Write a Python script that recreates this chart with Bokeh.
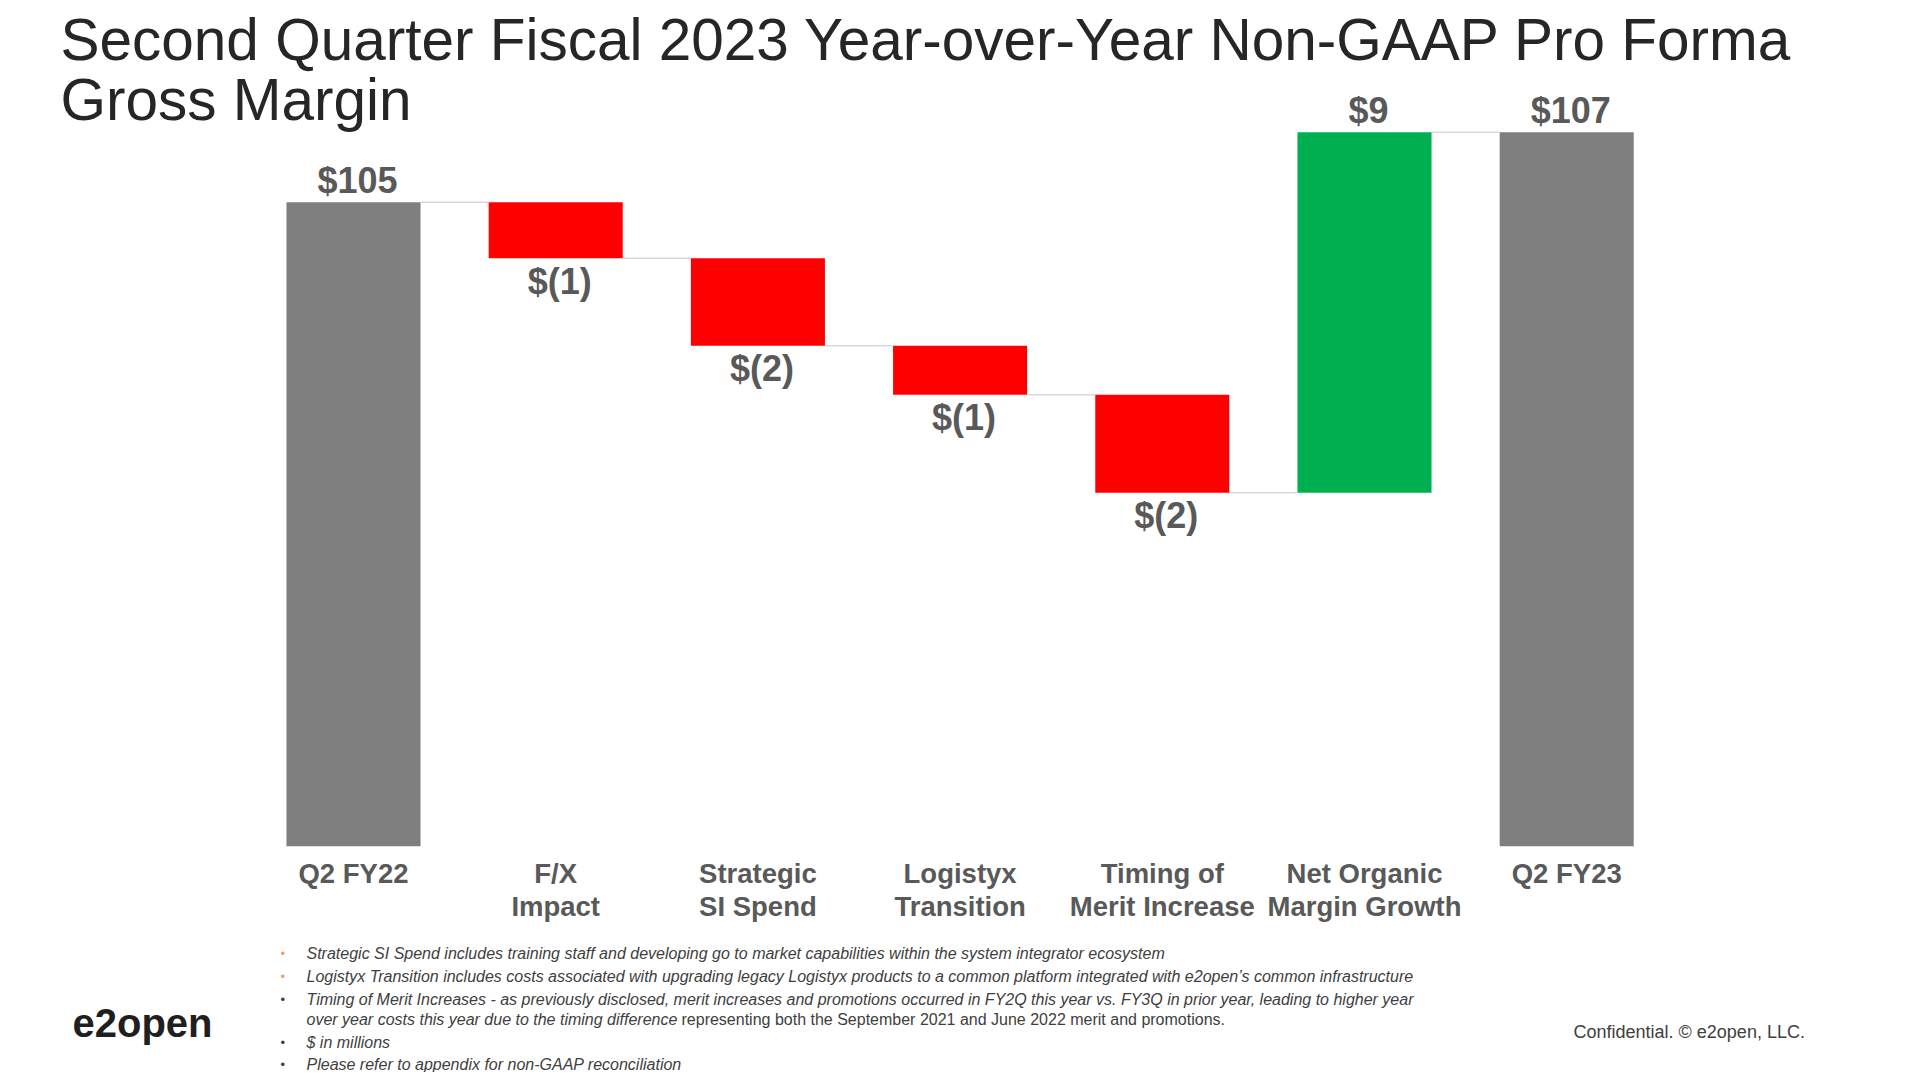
from bokeh.plotting import figure
from bokeh.models import Range1d, Label, ColumnDataSource
from bokeh.core.properties import value
from bokeh.embed import file_html
from bokeh.resources import INLINE

# ---------------- data ----------------
CATEGORIES = [
    "Q2 FY22",
    "F/X\nImpact",
    "Strategic\nSI Spend",
    "Logistyx\nTransition",
    "Timing of\nMerit Increase",
    "Net Organic\nMargin Growth",
    "Q2 FY23",
]
START_TOTAL = 105.0          # $M, Q2 FY22
CHANGES = [-1.6, -2.5, -1.4, -2.8, 10.3]   # bar heights as drawn
END_TOTAL = 107.0            # $M, Q2 FY23
VALUE_LABELS = ["$105", "$(1)", "$(2)", "$(1)", "$(2)", "$9", "$107"]
Y_FLOOR = 86.6               # value axis starts here (truncated axis)

TITLE_LINES = [
    "Second Quarter Fiscal 2023 Year-over-Year Non-GAAP Pro Forma",
    "Gross Margin",
]
FOOTNOTE_LINES = [
    "Strategic SI Spend includes training staff and developing go to market capabilities within the system integrator ecosystem",
    "Logistyx Transition includes costs associated with upgrading legacy Logistyx products to a common platform integrated with e2open\u2019s common infrastructure",
    "Timing of Merit Increases - as previously disclosed, merit increases and promotions occurred in FY2Q this year vs. FY3Q in prior year, leading to higher year",
    "over year costs this year due to the timing difference",
    "$ in millions",
    "Please refer to appendix for non-GAAP reconciliation",
]
FOOTNOTE_BULLET = [True, True, True, False, True, True]
FOOTNOTE_TAIL = "representing both the September 2021 and June 2022 merit and promotions."
LOGO_TEXT = "e2open"
CONFIDENTIAL = "Confidential. \u00a9 e2open, LLC."

# ---------------- style / layout ----------------
GRAY, RED, GREEN = "#7f7f7f", "#ff0000", "#00b050"
LABEL_COLOR = "#595959"
TITLE_COLOR = "#262626"
CONNECTOR = "#d9d9d9"
FONT = "Liberation Sans"

W, H = 1912, 1072
X0_PX, STEP_PX = 353.0, 202.2     # x of first bar centre, spacing
Y_REF_PX, UNIT_PX = 201.7, 35.0   # y of START_TOTAL level, px per $M
BAR_W = 0.663

x_start = (0 - X0_PX) / STEP_PX
x_end = (W - X0_PX) / STEP_PX
y_end = START_TOTAL + (Y_REF_PX - 0) / UNIT_PX
y_start = START_TOTAL - (H - Y_REF_PX) / UNIT_PX


def sx(px):
    return px


def sy(py):
    return H - py


# ---------------- waterfall geometry ----------------
n = len(CATEGORIES)
xs = list(range(n))
bottoms, tops, colors, kinds = [Y_FLOOR], [START_TOTAL], [GRAY], ["total"]
levels = [START_TOTAL]
level = START_TOTAL
for d in CHANGES:
    new = level + d
    bottoms.append(min(level, new))
    tops.append(max(level, new))
    colors.append(RED if d < 0 else GREEN)
    kinds.append("down" if d < 0 else "up")
    level = new
    levels.append(level)
bottoms.append(Y_FLOOR)
tops.append(END_TOTAL)
colors.append(GRAY)
kinds.append("total")

p = figure(
    width=W, height=H, output_backend="svg", toolbar_location=None,
    x_range=Range1d(x_start, x_end), y_range=Range1d(y_start, y_end),
    min_border=0, title=None,
)
p.axis.visible = False
p.grid.visible = False
p.outline_line_color = None
p.background_fill_color = "white"
p.border_fill_color = "white"

# connectors
p.segment(
    x0=[i + BAR_W / 2 for i in range(n - 1)],
    x1=[i + 1 - BAR_W / 2 for i in range(n - 1)],
    y0=levels[: n - 1], y1=levels[: n - 1],
    line_color=CONNECTOR, line_width=1.5,
)

src = ColumnDataSource(dict(x=xs, bottom=bottoms, top=tops, color=colors))
p.vbar(x="x", width=BAR_W, bottom="bottom", top="top", fill_color="color",
       line_color=None, source=src)

# value labels
up_x = [i for i in xs if kinds[i] != "down"]
p.text(x=up_x, y=[tops[i] for i in up_x], text=[VALUE_LABELS[i] for i in up_x],
       text_align="center", text_baseline="middle", x_offset=4, y_offset=-22,
       text_font=value(FONT), text_font_style="bold", text_font_size="36px",
       text_color=LABEL_COLOR)
dn_x = [i for i in xs if kinds[i] == "down"]
p.text(x=dn_x, y=[bottoms[i] for i in dn_x], text=[VALUE_LABELS[i] for i in dn_x],
       text_align="center", text_baseline="middle", x_offset=4, y_offset=23,
       text_font=value(FONT), text_font_style="bold", text_font_size="36px",
       text_color=LABEL_COLOR)

# category labels (two lines)
line1 = [c.split("\n")[0] for c in CATEGORIES]
line2 = [c.split("\n")[1] if "\n" in c else "" for c in CATEGORIES]
for txt, off in ((line1, 27), (line2, 60)):
    p.text(x=xs, y=[Y_FLOOR] * n, text=txt, text_align="center",
           text_baseline="middle", y_offset=off,
           text_font=value(FONT), text_font_style="bold", text_font_size="27.5px",
           text_color=LABEL_COLOR)

# title
for t, cy in zip(TITLE_LINES, (39, 99)):
    p.add_layout(Label(x=sx(60), y=sy(cy), x_units="screen", y_units="screen",
                       text=t, text_font=FONT, text_font_size="58.5px",
                       text_color=TITLE_COLOR, text_baseline="middle"))

# footnotes
foot_y = [953, 976, 999, 1019, 1042, 1064]
for t, bul, cy in zip(FOOTNOTE_LINES, FOOTNOTE_BULLET, foot_y):
    if bul:
        p.add_layout(Label(x=sx(280), y=sy(cy), x_units="screen", y_units="screen",
                           text="\u2022", text_font=FONT, text_font_size="13px",
                           text_color="#f0a060" if cy < 990 else "#404040",
                           text_baseline="middle"))
    p.add_layout(Label(x=sx(306), y=sy(cy), x_units="screen", y_units="screen",
                       text=t, text_font=FONT, text_font_size="16px",
                       text_font_style="italic", text_color="#404040",
                       text_baseline="middle"))
p.add_layout(Label(x=sx(681), y=sy(foot_y[3]), x_units="screen", y_units="screen",
                   text=FOOTNOTE_TAIL, text_font=FONT, text_font_size="16px",
                   text_color="#404040", text_baseline="middle"))

# logo and confidentiality note
p.add_layout(Label(x=sx(72), y=sy(1022), x_units="screen", y_units="screen",
                   text=LOGO_TEXT, text_font=FONT, text_font_size="40px",
                   text_font_style="bold", text_color="#1f1f1f",
                   text_baseline="middle"))
p.add_layout(Label(x=sx(1573), y=sy(1031), x_units="screen", y_units="screen",
                   text=CONFIDENTIAL, text_font=FONT, text_font_size="18px",
                   text_color="#404040", text_baseline="middle"))

open("out.html", "w").write(file_html(p, INLINE))
